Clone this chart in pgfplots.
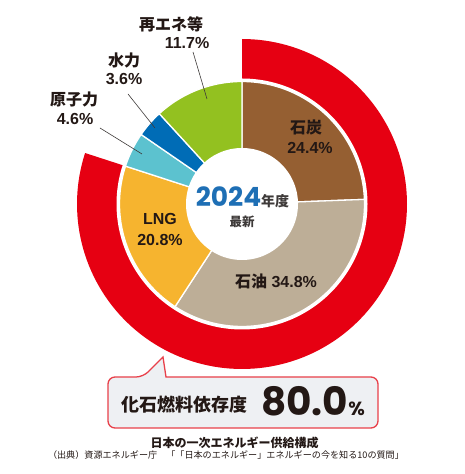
\documentclass[border=0pt]{standalone}
\usepackage{pgfplots}
\pgfplotsset{compat=1.18}
\usepackage{fontspec}
\setmainfont{Liberation Sans}
\newfontfamily\jp{Noto Sans CJK JP}
\newfontfamily\pop{Poppins}
\definecolor{coal}{HTML}{955F32}
\definecolor{oil}{HTML}{BDAE97}
\definecolor{lng}{HTML}{F6B42F}
\definecolor{nuc}{HTML}{5CC2CF}
\definecolor{hyd}{HTML}{006CB6}
\definecolor{ren}{HTML}{93C120}
\definecolor{fos}{HTML}{E60012}
\definecolor{yr}{HTML}{1E6FB5}
\definecolor{txt}{HTML}{231815}
\definecolor{gr}{HTML}{3E3A39}
\definecolor{boxfill}{HTML}{EEF0F3}
\definecolor{boxred}{HTML}{E8404A}
% shares (%)
\def\sCoal{24.4}
\def\sOil{34.8}
\def\sLng{20.8}
\def\sNuc{4.6}
\def\sHyd{3.6}
\def\sRen{11.7}
\def\sFos{80.0}
\pgfmathsetmacro\aA{90}
\pgfmathsetmacro\aB{\aA-3.6*\sCoal}
\pgfmathsetmacro\aC{\aB-3.6*\sOil}
\pgfmathsetmacro\aD{\aC-3.6*\sLng}
\pgfmathsetmacro\aE{\aD-3.6*\sNuc}
\pgfmathsetmacro\aF{\aE-3.6*\sHyd}
\pgfmathsetmacro\aG{\aF-3.6*\sRen}
\pgfmathsetmacro\fS{90-3.6*\sFos}
\newcommand\lab[3][]{%
  \node[inner sep=0pt,text=txt,#1] at #2 {#3};
}
\begin{document}
\begin{tikzpicture}
\begin{axis}[at={(0,0)}, anchor=south west, x=1pt, y=1pt,
  xmin=-242, xmax=223, ymin=-270, ymax=204, hide axis, clip=false]
% fossil ring
\addplot[fill=fos, draw=none, domain=\fS:90, samples=145, variable=\t]
  ({165*cos(t)},{165*sin(t)}) -- (axis cs:0,0) -- cycle;
\addplot[fill=white, draw=none, domain=0:360, samples=181, variable=\t]
  ({125.5*cos(t)},{125.5*sin(t)}) -- cycle;
% pie slices
\addplot[fill=coal, draw=white, line width=1.3pt, domain=\aB:\aA, samples=60, variable=\t]
  ({122.5*cos(t)},{122.5*sin(t)}) -- (axis cs:0,0) -- cycle;
\addplot[fill=oil, draw=white, line width=1.3pt, domain=\aC:\aB, samples=80, variable=\t]
  ({122.5*cos(t)},{122.5*sin(t)}) -- (axis cs:0,0) -- cycle;
\addplot[fill=lng, draw=white, line width=1.3pt, domain=\aD:\aC, samples=60, variable=\t]
  ({122.5*cos(t)},{122.5*sin(t)}) -- (axis cs:0,0) -- cycle;
\addplot[fill=nuc, draw=white, line width=1.3pt, domain=\aE:\aD, samples=20, variable=\t]
  ({122.5*cos(t)},{122.5*sin(t)}) -- (axis cs:0,0) -- cycle;
\addplot[fill=hyd, draw=white, line width=1.3pt, domain=\aF:\aE, samples=20, variable=\t]
  ({122.5*cos(t)},{122.5*sin(t)}) -- (axis cs:0,0) -- cycle;
\addplot[fill=ren, draw=white, line width=1.3pt, domain=-270:\aF, samples=40, variable=\t]
  ({122.5*cos(t)},{122.5*sin(t)}) -- (axis cs:0,0) -- cycle;
% hole
\addplot[fill=white, draw=none, domain=0:360, samples=181, variable=\t]
  ({56*cos(t)},{56*sin(t)}) -- cycle;
\end{axis}
\begin{scope}[x=1pt,y=-1pt,yshift=474pt]
% leader lines
\draw[gr, line width=0.6pt] (193,52) -- (207,99);
\draw[gr, line width=0.6pt] (128,94) -- (155,128);
\draw[gr, line width=0.6pt] (100,128) -- (142,154);
% labels
\lab[font={\jp\bfseries\fontsize{16}{16}\selectfont}]{(306,127)}{石炭}
\lab[font={\bfseries\fontsize{16}{16}\selectfont}]{(310,148)}{24.4\%}
\lab[font={\bfseries\fontsize{16}{16}\selectfont}]{(276,281)}{{\jp 石油} 34.8\%}
\lab[font={\bfseries\fontsize{16}{16}\selectfont}]{(160,219)}{LNG}
\lab[font={\bfseries\fontsize{16}{16}\selectfont}]{(160,240)}{20.8\%}
\lab[font={\jp\bfseries\fontsize{16}{16}\selectfont}]{(74,99)}{原子力}
\lab[font={\bfseries\fontsize{16}{16}\selectfont}]{(75,119)}{4.6\%}
\lab[font={\jp\bfseries\fontsize{16}{16}\selectfont}]{(124,60)}{水力}
\lab[font={\bfseries\fontsize{16}{16}\selectfont}]{(124,79)}{3.6\%}
\lab[font={\jp\bfseries\fontsize{16}{16}\selectfont}]{(171,24)}{再エネ等}
\lab[font={\bfseries\fontsize{16}{16}\selectfont}]{(187,43)}{11.7\%}
% centre
\node[anchor=base, inner sep=0pt, text depth=0pt] at (242.5,207)
  {{\pop\bfseries\fontsize{26.5}{26.5}\selectfont\color{yr}2024}{\jp\bfseries\fontsize{14}{14}\selectfont\color{gr}年度}};
\node[inner sep=0pt, text=gr, font={\jp\bfseries\fontsize{12.5}{12.5}\selectfont}] at (242,222) {最新};
% callout box
\draw[fill=boxfill, draw=boxred, line width=1.3pt] (143,377) -- (163,357) -- (166,377)
  [rounded corners=7pt] -- (378,377) -- (378,428) -- (108,428) -- (108,377) -- cycle;
\node[inner sep=0pt, text=txt, font={\jp\bfseries\fontsize{18}{18}\selectfont}] at (184,405) {化石燃料依存度};
\node[anchor=base west, inner sep=0pt, text=txt] at (261,416)
  {{\pop\bfseries\fontsize{39}{39}\selectfont 80.0}{\pop\bfseries\fontsize{19}{19}\selectfont\%}};
% titles
\node[inner sep=0pt, text=txt, font={\jp\bfseries\fontsize{12}{12}\selectfont}] at (234.5,443) {日本の一次エネルギー供給構成};
\node[inner sep=0pt, text=txt, font={\jp\fontsize{9.1}{9.1}\selectfont}] at (226,455) {（出典）資源エネルギー庁　「「日本のエネルギー」エネルギーの今を知る10の質問」};
\end{scope}
\pgfresetboundingbox
\useasboundingbox (0,0) rectangle (465pt,474pt);
\end{tikzpicture}
\end{document}
